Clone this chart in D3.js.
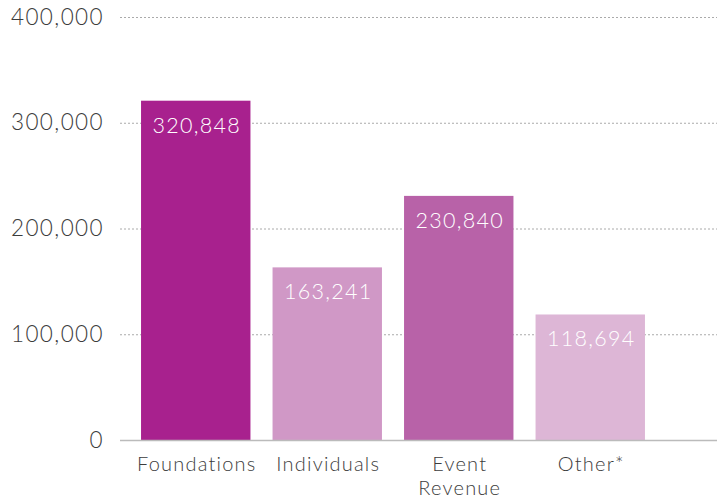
<!DOCTYPE html>
<html>
<head>
<meta charset="utf-8">
<script src="https://cdn.jsdelivr.net/npm/d3@7"></script>
<style>
  body { margin: 0; background: #fff; }
  svg text { font-family: Lato, "Open Sans", sans-serif; font-weight: 300; }
</style>
</head>
<body>
<div class="graph"></div>
<script>
// data
const categories = ["Foundations", "Individuals", "Event Revenue", "Other*"];
const catLines = [["Foundations"], ["Individuals"], ["Event", "Revenue"], ["Other*"]];
const amounts = [320848, 163241, 230840, 118694];
const colors = ["#a8218e", "#d098c6", "#b862a8", "#ddb6d6"];
const yTicks = [0, 100000, 200000, 300000, 400000];

const SIZE = {X: 717, Y: 500};
const MARGIN = {TOP: 17, LEFT: 120, RIGHT: 0};
const DIM = {WIDTH: SIZE.X - MARGIN.LEFT - MARGIN.RIGHT, HEIGHT: 423};

const svg = d3.select(".graph").append("svg")
    .attr("width", SIZE.X)
    .attr("height", SIZE.Y);

const graph = svg.append("g")
    .attr("transform", `translate(${MARGIN.LEFT}, ${MARGIN.TOP})`);

// scales
const x = d3.scaleBand()
    .domain(categories)
    .range([0, 546])
    .paddingInner(0.168)
    .paddingOuter(0.16);

const y = d3.scaleLinear()
    .domain([0, 400000])
    .range([DIM.HEIGHT, 0]);

// gridlines
graph.append("g")
    .selectAll("line")
    .data(yTicks.filter(d => d > 0))
    .join("line")
    .attr("x1", 0)
    .attr("x2", DIM.WIDTH)
    .attr("y1", d => y(d) + 0.5)
    .attr("y2", d => y(d) + 0.5)
    .attr("stroke", "#aaa")
    .attr("stroke-width", 1)
    .attr("stroke-dasharray", "2,2");

// y axis labels
const yAxis = graph.append("g")
    .call(d3.axisLeft(y).tickValues(yTicks).tickFormat(d3.format(",")).tickSize(0).tickPadding(16));
yAxis.select(".domain").remove();
yAxis.selectAll("text")
    .attr("fill", "#3c3c3c")
    .style("font-size", "22.5px")
    .style("letter-spacing", "1.4px");

// bars
graph.append("g")
    .selectAll("rect")
    .data(categories)
    .join("rect")
    .attr("x", d => x(d))
    .attr("width", x.bandwidth())
    .attr("y", (d, i) => y(amounts[i]))
    .attr("height", (d, i) => DIM.HEIGHT - y(amounts[i]))
    .attr("fill", (d, i) => colors[i]);

// value labels
graph.append("g")
    .selectAll("text")
    .data(categories)
    .join("text")
    .attr("x", d => x(d) + x.bandwidth() / 2 + 1)
    .attr("y", (d, i) => y(amounts[i]) + 32)
    .attr("text-anchor", "middle")
    .attr("fill", "#fff")
    .style("font-size", "21.5px")
    .style("letter-spacing", "1.3px")
    .text((d, i) => d3.format(",")(amounts[i]));

// x axis baseline
graph.append("line")
    .attr("x1", 0)
    .attr("x2", DIM.WIDTH)
    .attr("y1", DIM.HEIGHT + 0.5)
    .attr("y2", DIM.HEIGHT + 0.5)
    .attr("stroke", "#bbb")
    .attr("stroke-width", 1.5);

// x labels
const xl = graph.append("g")
    .selectAll("text")
    .data(categories)
    .join("text")
    .attr("x", d => x(d) + x.bandwidth() / 2 + 1)
    .attr("y", DIM.HEIGHT + 31)
    .attr("text-anchor", "middle")
    .attr("fill", "#3c3c3c")
    .style("font-size", "20px")
    .style("letter-spacing", "1.2px");

xl.selectAll("tspan")
    .data((d, i) => catLines[i])
    .join("tspan")
    .attr("x", function() { return this.parentNode.getAttribute("x"); })
    .attr("dy", (d, j) => j === 0 ? 0 : 24)
    .text(d => d);
</script>
</body>
</html>
